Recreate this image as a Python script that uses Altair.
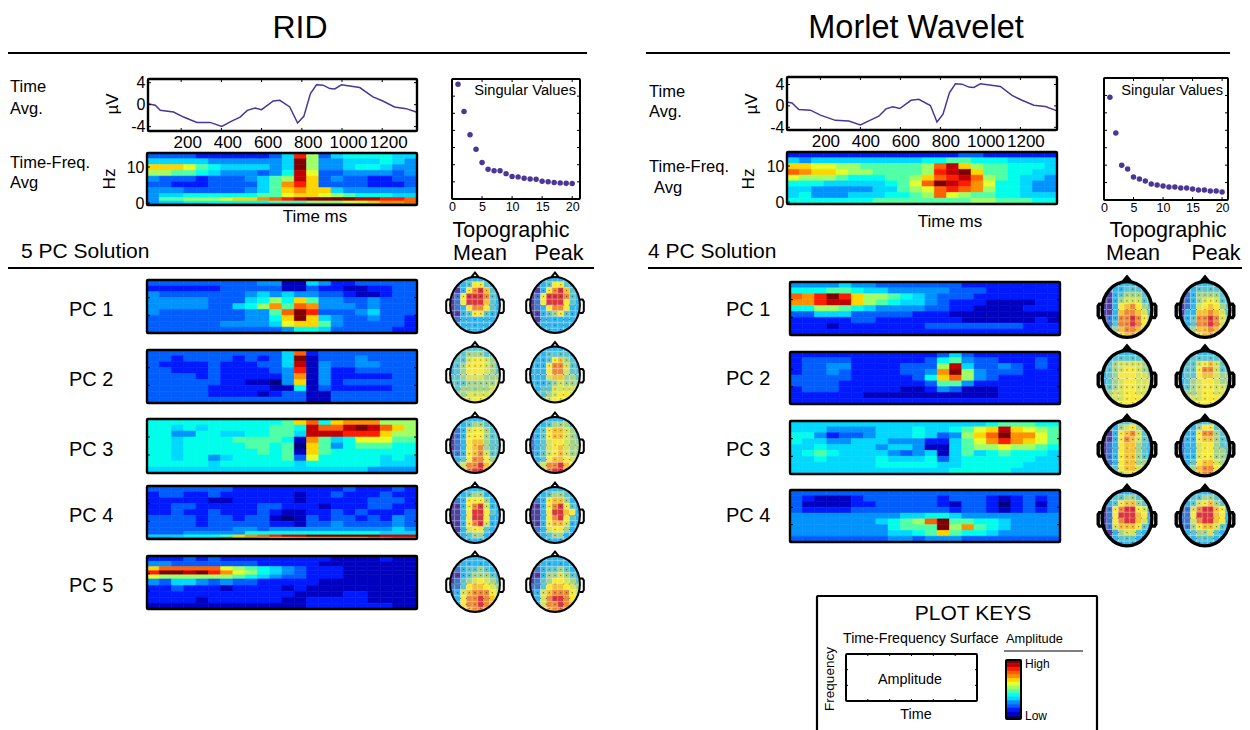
import altair as alt
import pandas as pd

FONT = "Liberation Sans"
PAGE = 8
JET = ["#00007f", "#0000ff", "#007fff", "#00ffff", "#7fff7f", "#ffff00", "#ff7f00", "#ff0000", "#7f0000"]
HEAD_PAL = ["#4f3f9f", "#3b78cf", "#2eb5ee", "#5cc4cc", "#a3d38c", "#d6e35a", "#f7e93c", "#f4c034", "#ee8a35", "#d8363c"]
PURPLE = "#4b3596"

# ---- time-average curves
RID_T = [35, 71, 96, 162, 212, 278, 344, 402, 451, 493, 529, 567, 600, 658, 691, 740, 779, 810, 843, 873, 906, 939, 964, 997, 1088, 1154, 1203, 1261, 1319, 1369]
RID_V = [0.18, -0.12, -1.04, -1.34, -2.26, -3.23, -3.23, -3.96, -2.99, -2.26, -1.04, -0.61, -0.91, 0.67, 0.79, -0.43, -3.35, -2.13, 2.01, 3.6, 3.54, 2.93, 2.87, 3.6, 3.11, 1.4, 0.67, -0.43, -0.73, -1.34]
MOR_T = [33, 58, 92, 150, 200, 275, 342, 400, 450, 492, 528, 562, 597, 653, 692, 750, 783, 813, 845, 875, 908, 942, 967, 1000, 1100, 1158, 1208, 1267, 1325, 1383]
MOR_V = [0.74, 0.55, -0.68, -0.8, -1.72, -2.7, -2.83, -3.57, -2.65, -1.92, -0.55, -0.18, -0.49, 1.05, 1.23, 0.06, -3.02, -1.54, 2.46, 4.12, 4.06, 3.51, 3.45, 4.12, 3.63, 1.97, 1.05, 0.12, -0.12, -0.92]
TIME_TICKS = [200, 400, 600, 800, 1000, 1200]
UV_TICKS = [-4, 0, 4]
HZ_TICKS = [0, 10]
SV_X_TICKS = [0, 5, 10, 15, 20]
SV_Y_TICKS = [0, 1, 2, 3, 4, 5, 6, 7]
RANK = list(range(1, 21))
RID_SV = [6.69, 5.1, 3.75, 2.9, 2.13, 1.73, 1.65, 1.65, 1.48, 1.31, 1.29, 1.21, 1.17, 1.15, 1.04, 1.0, 0.96, 0.94, 0.92, 0.9]
MOR_SV = [5.9, 3.85, 2.0, 1.78, 1.32, 1.2, 1.09, 0.92, 0.86, 0.8, 0.75, 0.75, 0.69, 0.69, 0.63, 0.57, 0.57, 0.52, 0.52, 0.46]

# ---- time-frequency surfaces, level 0-f per cell, top row first
RID_TF = ["33332 22222 35d83 56666 55", "55555 44444 45f84 45556 54", "aaa97 65555 45f84 45665 44", "88776 54443 46e93 34444 34",
          "43332 33345 78ea3 43322 33", "33222 33335 7bda3 33322 23", "44433 33345 7abaa 54444 44", "45566 66667 79aa9 87666 55",
          "47788 89aab cdeff ffeed dc", "45566 66666 77788 899ab bc", "33333 44444 44444 44444 44"]
RID_PC1 = ["33333 33334 41154 22333 33", "22222 23333 31132 21122 33", "43333 33345 45443 32112 33", "44444 33356 86a74 43343 33",
           "44444 33568 b7cb4 44343 33", "43333 33344 7cfd3 33453 33", "33333 33344 6afa5 43343 32", "33333 34444 59aa7 43333 32",
           "33333 33333 34665 33333 22"]
RID_PC2 = ["33333 33333 35c23 33333 33", "33233 33232 35f13 33433 33", "32222 32223 35e14 33443 33", "33222 32222 34d14 22333 33",
           "33332 32222 24b14 22222 33", "33333 32211 04a14 23333 33", "33333 22222 11613 22222 33", "33333 22221 23311 33333 33",
           "33333 33333 33311 33333 33"]
RID_PC3 = ["66666 66666 67ac6 abbb8 88", "66565 66666 776ec cefec a8", "66446 65566 775ee eddda 88", "66566 66777 761b7 56999 77",
           "66566 66677 670a7 46777 66", "66566 66667 671a7 66666 66", "66566 45666 67396 66665 65", "66666 56666 66566 66665 55",
           "55555 55555 55555 55544 44"]
RID_PC4 = ["33333 33222 22222 23222 32", "23322 32222 22122 32223 22", "22222 11222 22122 22233 32", "22332 22223 32221 22233 22",
           "22322 32223 21122 32322 23", "33332 33233 10132 33232 43", "33332 33333 22133 43333 43", "33333 33443 44444 44444 54",
           "33344 44466 66666 66665 55", "55566 67abc deeff ffffe ee", "33444 44556 89aaa aaabb cc"]
RID_PC5 = ["22232 32222 22222 11112 11", "44333 33332 22221 11111 11", "acccc c9876 54322 21111 11", "dffef db986 54322 21111 11",
           "98888 88765 43322 21111 11", "43554 34332 22221 11111 11", "22322 21222 21211 11111 11", "22222 22222 22111 12211 11",
           "22221 22222 21122 22211 11", "11111 11111 11122 22222 11"]
MOR_TF = ["22222 22222 22223 32222 22", "54555 55555 56677 66655 55", "aa998 87777 78cea 87766 65", "cbaa9 88777 78def a7766 55",
          "98887 66677 8acde c8765 54", "66655 55567 9cfed b9665 44", "55444 44557 89cdc b8665 44", "56444 55566 78c98 77665 55",
          "66666 66777 77777 88777 66"]
MOR_PC1 = ["44445 44333 33332 22222 22", "66677 65544 44433 32222 22", "cbdfd a8876 54333 22222 22", "bbdee a8765 54322 21111 22",
           "66887 65444 43322 11112 22", "33555 33333 22211 11111 11", "22222 33222 22221 11111 21", "22212 22222 23333 33332 22",
           "22222 22222 22222 22222 22"]
MOR_PC2 = ["22222 22222 22353 22222 22", "23333 22222 23674 33222 32", "23344 22223 338e5 33432 32", "23343 22223 34bf8 43332 22",
           "33333 22222 36ac8 43222 22", "33332 22222 23774 22222 22", "23332 22221 12431 11222 22", "22222 21111 11111 11222 22",
           "22222 22222 22222 22222 22"]
MOR_PC3 = ["55555 55555 55555 56777 66", "55544 44555 65567 9aea9 87", "66423 34555 65348 acfbb 97", "65544 55544 42257 9bdba 97",
           "55655 55455 41157 88988 76", "56765 55543 45157 56766 65", "55655 55655 56356 66666 55", "55555 55666 66556 66665 55",
           "55555 55555 55566 66655 55"]
MOR_PC4 = ["33333 33333 33333 33333 33", "32111 23333 33233 32123 23", "31111 22333 33213 32023 13", "32222 33333 33323 32123 23",
           "44444 44445 56654 44444 44", "44444 44567 8cf77 66544 44", "44444 44467 77f8b 76544 44", "44444 44455 67a76 65444 44",
           "33333 33344 34443 33333 33"]
ROW_EDGES = [0, 1, 2, 3, 4, 5, 6, 7, 8, 9]
LINE_EDGES = [0, 1, 2, 3, 4, 5, 6, 7, 7.7, 8.3, 8.7, 9]
STREAK_EDGES = [0, 0.9, 1.8, 2.5, 3.2, 3.9, 5, 6, 7, 8, 9]
COLORBAR = [15, 14, 13, 12, 11, 10, 9, 8, 7, 6, 5, 4, 3, 2, 1, 0]

# ---- scalp maps, level 0-9 per cell, top row first
RID_MAPS = [
 (["222222222","112366322","002689732","016999832","016999732","012688632","002366322","012222222","122222222","222222222"],
  ["122222222","012366322","002689732","016999832","016999632","012688622","002346322","002222222","012222222","222222222"]),
 (["223333322","233444332","233566543","234666543","234666543","334555444","333444445","334444455","344555555","445566655"],
  ["222222222","222333322","222367432","222688532","222688533","222577443","222345444","223355554","333456655","344566654"]),
 (["222222222","122344322","012566432","012666433","012677433","012678433","112678533","123688643","235889754","345899865"],
  ["222222222","222344422","123677543","123677543","123566544","123567544","123567544","223677654","235889765","345899865"]),
 (["222222222","222344222","012666422","002689522","002699632","002699622","002689522","002566322","012344212","112222212"],
  ["222222222","222344322","012677422","002689632","002699762","002689632","002677522","012566422","112344222","222222222"]),
 (["122222222","012222222","012334322","002344432","013456543","113677654","125788865","126889876","126889876","226788765"],
  ["122222222","012222222","012334322","002445432","013466543","113677654","125788865","125899865","125889875","226788765"]),
]
MOR_MAPS = [
 (["222222222","122233322","002344432","002455533","002678643","002788753","012889864","113889864","124788754","225677654"],
  ["122222222","122333322","012444432","012456533","012567643","022778753","123889854","123889854","124778754","235677654"]),
 (["222222222","223333332","234555543","234566543","234666554","234566555","334566555","345566555","345566665","345666655"],
  ["222222222","223333332","233567533","233688533","233677544","234566544","234566554","344566555","345566655","345666665"]),
 (["222334222","122456422","002678532","002687532","012677432","012677432","012677432","012677442","023677542","122456422"],
  ["222233222","122466322","122688432","122677432","122566433","122566443","122566443","123677544","224788654","235788654"]),
 (["222222222","223344322","123677432","016899652","016999762","016899752","015777632","002455322","002333212","012222111"],
  ["222222222","223344322","123567432","115899762","116999762","115899762","114677532","123445322","122333222","222222222"]),
]
ELEC_X = [3.5,5.5, 2.5,3.5,4.5,5.5,6.5, 1.5,2.5,3.5,4.5,5.5,6.5,7.5, 1,2,3,4.5,6,7,8, 1.5,2.5,3.5,4.5,5.5,6.5,7.5, 2,3,4.5,6,7, 3,4.5,6, 3.5,5.5]
ELEC_Y = [1.5,1.5, 2.5,2.5,2.5,2.5,2.5, 3.5,3.5,3.5,3.5,3.5,3.5,3.5, 5,5,5,5,5,5,5, 6.5,6.5,6.5,6.5,6.5,6.5,6.5, 7.5,7.5,7.5,7.5,7.5, 8.5,8.5,8.5, 9.2,9.2]
HEAD_CENTRE_X = [4.5]
HEAD_CENTRE_Y = [5]

# ---- words
TITLE_L, TITLE_R = "RID", "Morlet Wavelet"
SOLUTION_L, SOLUTION_R = "5 PC Solution", "4 PC Solution"
PC_NAMES = ["PC 1", "PC 2", "PC 3", "PC 4", "PC 5"]
KEY_TICKS_X = [1, 2, 3, 4, 5]
KEY_TICKS_Y = [1, 2]

ELLIPSE_CW = "M0,-.93 C.458,-.93 .83,-.514 .83,0 C.83,.514 .458,.93 0,.93 C-.458,.93 -.83,.514 -.83,0 C-.83,-.514 -.458,-.93 0,-.93 Z"
ELLIPSE_CCW = "M0,-.93 C-.458,-.93 -.83,-.514 -.83,0 C-.83,.514 -.458,.93 0,.93 C.458,.93 .83,.514 .83,0 C.83,-.514 .458,-.93 0,-.93 Z"
MASK = "M-1,-1 L1,-1 L1,1 L-1,1 Z " + ELLIPSE_CCW
OUTLINE = (ELLIPSE_CW + " M-.13,-.92 L0,-1.08 L.13,-.92 "
           "M-.83,-.18 L-.92,-.18 L-.96,-.12 L-.96,.2 L-.92,.27 L-.83,.27 "
           "M.83,-.18 L.92,-.18 L.96,-.12 L.96,.2 L.92,.27 L.83,.27")

layers = []
ONE = pd.DataFrame({"k": [0]})


def sx(dom, a, b):
    return alt.Scale(domain=dom, range=[a - PAGE, b - PAGE], nice=False, zero=False)


def sy(dom, top, bottom):
    return alt.Scale(domain=dom, range=[bottom - PAGE, top - PAGE], nice=False, zero=False)


def rows_down(dom, top, bottom):
    return alt.Scale(domain=dom, range=[top - PAGE, bottom - PAGE], nice=False, zero=False)


def txt(s, x, y, size=14, align="left", angle=0):
    layers.append(alt.Chart(pd.DataFrame({"t": [s]})).mark_text(
        font=FONT, fontSize=size, align=align, baseline="middle", angle=angle, color="black"
    ).encode(text="t:N", x=alt.value(x - PAGE), y=alt.value(y + 1 - PAGE)))


def hline(a, b, y, w=2):
    layers.append(alt.Chart(ONE).mark_rule(color="black", strokeWidth=w).encode(
        x=alt.value(a - PAGE), x2=alt.value(b - PAGE), y=alt.value(y - PAGE)))


def frame(xs, ys, df, w=2.4):
    layers.append(alt.Chart(df).mark_rect(filled=False, stroke="black", strokeWidth=w, cornerRadius=1).encode(
        x=alt.X("x0:Q", scale=xs, axis=None), x2="x1:Q",
        y=alt.Y("y0:Q", scale=ys, axis=None), y2="y1:Q"))


def xticks(vals, scale, y_a, y_b, axis=None):
    layers.append(alt.Chart(pd.DataFrame({"v": vals})).mark_rule(color="black", strokeWidth=1).encode(
        x=alt.X("v:Q", scale=scale, axis=axis), y=alt.value(y_a - PAGE), y2=alt.value(y_b - PAGE)))


def yticks(vals, scale, x_a, x_b, axis=None):
    layers.append(alt.Chart(pd.DataFrame({"v": vals})).mark_rule(color="black", strokeWidth=1).encode(
        y=alt.Y("v:Q", scale=scale, axis=axis), x=alt.value(x_a - PAGE), x2=alt.value(x_b - PAGE)))


def heat(rows, left, right, top, bottom, edges=ROW_EDGES, ticks=True):
    recs = []
    for r, row in enumerate(rows):
        row = row.replace(" ", "")
        for c, ch in enumerate(row):
            recs.append({"x0": c, "x1": c + 1, "y0": edges[r], "y1": edges[r + 1], "v": int(ch, 16)})
    ncol = len(rows[0].replace(" ", ""))
    xs = sx([0, ncol], left, right)
    ys = rows_down([0, 9], top, bottom)
    col = alt.Scale(domain=[0, 15], range=JET)
    layers.append(alt.Chart(pd.DataFrame(recs)).mark_rect(strokeWidth=0.6).encode(
        x=alt.X("x0:Q", scale=xs, axis=None), x2="x1:Q",
        y=alt.Y("y0:Q", scale=ys, axis=None), y2="y1:Q",
        color=alt.Color("v:Q", scale=col, legend=None),
        stroke=alt.Stroke("v:Q", scale=col, legend=None)))
    frame(xs, ys, pd.DataFrame({"x0": [0], "x1": [ncol], "y0": [0], "y1": [9]}))
    if ticks:
        yticks([3, 6], ys, left, left + 3)
        yticks([3, 6], ys, right - 3, right)


def head(rows, cx, cy, w):
    recs = []
    for r, row in enumerate(rows):
        for c, ch in enumerate(row):
            recs.append({"x0": c, "x1": c + 1, "y0": r, "y1": r + 1, "v": int(ch)})
    xs = sx([0, 9], cx - 26, cx + 26)
    ys = rows_down([0, 10], cy - 29, cy + 29)
    col = alt.Scale(domain=[0, 9], range=HEAD_PAL)
    layers.append(alt.Chart(pd.DataFrame(recs)).mark_rect(stroke="white", strokeWidth=0.4, strokeOpacity=0.4).encode(
        x=alt.X("x0:Q", scale=xs, axis=None), x2="x1:Q",
        y=alt.Y("y0:Q", scale=ys, axis=None), y2="y1:Q",
        color=alt.Color("v:Q", scale=col, legend=None)))
    layers.append(alt.Chart(pd.DataFrame({"x": ELEC_X, "y": ELEC_Y})).mark_circle(size=1.5, color="#111111", opacity=0.6).encode(
        x=alt.X("x:Q", scale=xs, axis=None), y=alt.Y("y:Q", scale=ys, axis=None)))
    centre = pd.DataFrame({"x": HEAD_CENTRE_X, "y": HEAD_CENTRE_Y})
    layers.append(alt.Chart(centre).mark_point(shape=MASK, size=3600, filled=True, color="white", opacity=1, strokeWidth=0).encode(
        x=alt.X("x:Q", scale=xs, axis=None), y=alt.Y("y:Q", scale=ys, axis=None)))
    layers.append(alt.Chart(centre).mark_point(shape=OUTLINE, size=3600, filled=False, color="black", opacity=1, strokeWidth=w).encode(
        x=alt.X("x:Q", scale=xs, axis=None), y=alt.Y("y:Q", scale=ys, axis=None)))


def label_axis(orient, offset, vals, size=16, pad=3, shift=0):
    return alt.Axis(orient=orient, offset=offset, values=vals, ticks=False, domain=False, grid=False, title=None,
                    labelFont=FONT, labelFontSize=size, labelColor="black", labelPadding=pad, labelOverlap=False,
                    labelFlush=False, labelBound=False, labelOffset=shift, labelExpr="'' + datum.value")


def curve(ts, vs, left, right, top, bottom, tdom, vdom, shift):
    xs = sx(tdom, left, right)
    ys = sy(vdom, top, bottom)
    layers.append(alt.Chart(pd.DataFrame({"t": ts, "v": vs})).mark_line(color=PURPLE, strokeWidth=1.5).encode(
        x=alt.X("t:Q", scale=xs, axis=None), y=alt.Y("v:Q", scale=ys, axis=None)))
    frame(xs, ys, pd.DataFrame({"x0": [tdom[0]], "x1": [tdom[1]], "y0": [vdom[0]], "y1": [vdom[1]]}))
    xticks(TIME_TICKS, xs, bottom, bottom - 3, label_axis("bottom", -(722 - (bottom - PAGE)), TIME_TICKS, size=17, shift=shift))
    xticks(TIME_TICKS, xs, top, top + 3)
    yticks(UV_TICKS, ys, left, left + 3, label_axis("left", -(left - PAGE), UV_TICKS))
    yticks(UV_TICKS, ys, right - 3, right)


def hz_axis(left, top, bottom):
    ys = sy([-0.55, 13.9], top, bottom)
    yticks(HZ_TICKS, ys, left, left + 3, label_axis("left", -(left - PAGE), HZ_TICKS))


def singular(vals, left, right, top, bottom, lab_x, xmax):
    xs = sx([0, xmax], left, right)
    ys = sy([0, 7], top, bottom)
    layers.append(alt.Chart(pd.DataFrame({"r": RANK, "v": vals})).mark_circle(size=30, color=PURPLE, opacity=1).encode(
        x=alt.X("r:Q", scale=xs, axis=None), y=alt.Y("v:Q", scale=ys, axis=None)))
    frame(xs, ys, pd.DataFrame({"x0": [0], "x1": [xmax], "y0": [0], "y1": [7]}), w=2)
    xticks(SV_X_TICKS, xs, bottom, bottom - 3, label_axis("bottom", -(722 - (bottom - PAGE)), SV_X_TICKS, size=12.5, pad=1))
    xticks(SV_X_TICKS, xs, top, top + 3)
    yticks(SV_Y_TICKS, ys, left, left + 3)
    yticks(SV_Y_TICKS, ys, right - 3, right)
    txt("Singular Values", lab_x, 90, 14.7, "right")


# ---- RID side
txt(TITLE_L, 300, 27, 32, "center")
hline(3, 587, 53)
txt("Time", 10, 86, 16.5); txt("Avg.", 10, 108, 16.5)
txt("Time-Freq.", 10, 162, 16.5); txt("Avg", 10, 182, 16.5)
txt("\u00b5V", 113, 103, 17, "center", 270); txt("Hz", 110, 178, 17, "center", 270)
curve(RID_T, RID_V, 148, 417, 79, 131, [35, 1373], [-4.8, 4.67], 6)
heat(RID_TF, 147, 417, 153, 205, LINE_EDGES, ticks=False)
hz_axis(147, 153, 205)
txt("Time ms", 315, 216, 17, "center")
singular(RID_SV, 452, 580, 79, 199, 576, 21.3)
txt("Topographic", 511, 230, 21.5, "center")
txt("Mean", 480, 253, 21.5, "center"); txt("Peak", 559, 253, 21.5, "center")
txt(SOLUTION_L, 21, 251, 21)
hline(3, 594, 268)
rid_rows = [(RID_PC1, 280, 333, ROW_EDGES, 309, 305), (RID_PC2, 350, 403, ROW_EDGES, 379, 374.5), (RID_PC3, 419, 473, ROW_EDGES, 449, 445),
            (RID_PC4, 486, 539, LINE_EDGES, 515, 515), (RID_PC5, 556, 609, STREAK_EDGES, 585, 584)]
for i, (rows, t, b, e, ly, cy) in enumerate(rid_rows):
    heat(rows, 147, 417, t, b, e)
    txt(PC_NAMES[i], 69, ly, 20)
    head(RID_MAPS[i][0], 475, cy, 2)
    head(RID_MAPS[i][1], 555, cy, 2)

# ---- Morlet side
txt(TITLE_R, 916, 27, 32.5, "center")
hline(646, 1230, 53)
txt("Time", 649, 91, 16.5); txt("Avg.", 649, 111, 16.5)
txt("Time-Freq.", 649, 166, 16.5); txt(" Avg", 654, 187, 16.5)
txt("\u00b5V", 752, 103, 17, "center", 270); txt("Hz", 749, 178, 17, "center", 270)
curve(MOR_T, MOR_V, 787, 1057, 77, 130, [33, 1383], [-4.5, 5.4], 5)
heat(MOR_TF, 787, 1057, 152, 204, ROW_EDGES, ticks=False)
hz_axis(787, 152, 204)
txt("Time ms", 950, 221, 17, "center")
singular(MOR_SV, 1104, 1228, 78, 200, 1223, 21)
txt("Topographic", 1168, 230, 21.5, "center")
txt("Mean", 1133, 253, 21.5, "center"); txt("Peak", 1216, 253, 21.5, "center")
txt(SOLUTION_R, 648, 251, 21)
hline(648, 1250, 268)
mor_rows = [(MOR_PC1, 282, 335, 309, 309.5), (MOR_PC2, 352, 404, 378, 378.5), (MOR_PC3, 421, 474, 449, 448), (MOR_PC4, 490, 542, 515, 518)]
for i, (rows, t, b, ly, cy) in enumerate(mor_rows):
    heat(rows, 790, 1060, t, b)
    txt(PC_NAMES[i], 726, ly, 20)
    head(MOR_MAPS[i][0], 1127, cy, 3.4)
    head(MOR_MAPS[i][1], 1205, cy, 3.4)

# ---- plot keys
key_x = sx([0, 1], 817, 1097)
key_y = rows_down([0, 1], 596, 745)
frame(key_x, key_y, pd.DataFrame({"x0": [0], "x1": [1], "y0": [0], "y1": [1]}), w=2.2)
txt("PLOT KEYS", 973, 613, 21, "center")
txt("Time-Frequency Surface", 843, 638, 14.2)
txt("Amplitude", 1006, 638, 12.8)
hline(1004, 1083, 651, 1.2)
sample_x = sx([0, 6], 846, 977)
sample_y = rows_down([0, 3], 654, 701)
frame(sample_x, sample_y, pd.DataFrame({"x0": [0], "x1": [6], "y0": [0], "y1": [3]}), w=2)
xticks(KEY_TICKS_X, sample_x, 654, 656)
xticks(KEY_TICKS_X, sample_x, 699, 701)
yticks(KEY_TICKS_Y, sample_y, 846, 848)
yticks(KEY_TICKS_Y, sample_y, 975, 977)
txt("Amplitude", 910, 679, 14.4, "center")
txt("Time", 916, 714, 14.4, "center")
txt("Frequency", 830, 678, 13.5, "center", 270)
bar_recs = [{"x0": 0, "x1": 1, "y0": i, "y1": i + 1, "v": v} for i, v in enumerate(COLORBAR)]
bar_x = sx([0, 1], 1006, 1021)
bar_y = rows_down([0, len(COLORBAR)], 660, 719)
bar_col = alt.Scale(domain=[0, 15], range=JET)
layers.append(alt.Chart(pd.DataFrame(bar_recs)).mark_rect(strokeWidth=0.6).encode(
    x=alt.X("x0:Q", scale=bar_x, axis=None), x2="x1:Q",
    y=alt.Y("y0:Q", scale=bar_y, axis=None), y2="y1:Q",
    color=alt.Color("v:Q", scale=bar_col, legend=None),
    stroke=alt.Stroke("v:Q", scale=bar_col, legend=None)))
frame(bar_x, bar_y, pd.DataFrame({"x0": [0], "x1": [1], "y0": [0], "y1": [len(COLORBAR)]}), w=2)
txt("High", 1025, 663, 12)
txt("Low", 1025, 715, 12)

chart = alt.layer(*layers).resolve_scale(
    x="independent", y="independent", color="independent", stroke="independent"
).properties(
    width=1234, height=722, padding=0, background="white",
    autosize=alt.AutoSizeParams(type="none")
).configure_view(stroke=None)

chart.save("out.html", embed_options={"renderer": "svg", "actions": False})
